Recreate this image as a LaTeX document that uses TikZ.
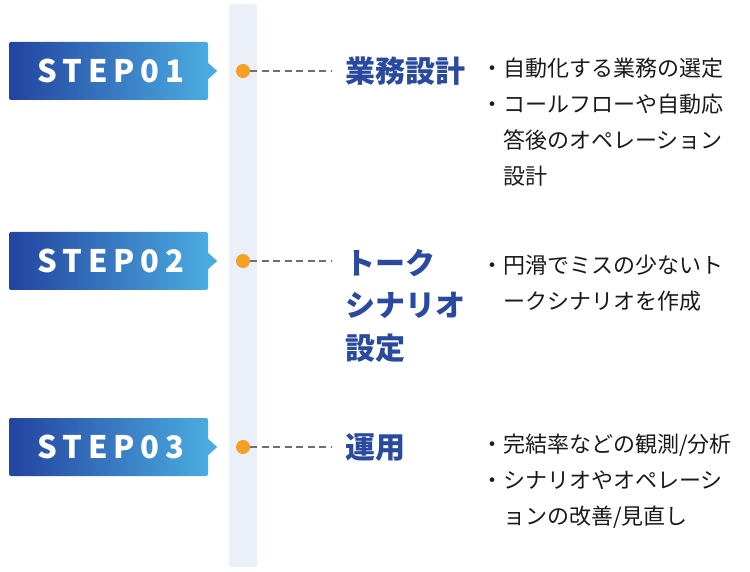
\documentclass[tikz,border=0pt]{standalone}
\usepackage{fontspec}
\setmainfont{Noto Sans CJK JP}
\newfontfamily\stepfont[LetterSpace=19]{Noto Sans CJK JP}
\definecolor{bandgray}{HTML}{EBF0F8}
\definecolor{stepdark}{HTML}{2343A0}
\definecolor{steplight}{HTML}{4BABE0}
\definecolor{titleblue}{HTML}{2A4A9F}
\definecolor{dotorange}{HTML}{F5A024}
\definecolor{dashgray}{HTML}{6E6E6E}
\definecolor{bodytext}{HTML}{1A1A1A}
\tikzset{
  stepbox/.style={rounded corners=2pt, left color=stepdark, right color=steplight,
    minimum width=199pt, minimum height=58pt, inner sep=0pt, text=white,
    font=\stepfont\bfseries\fontsize{31}{31}\selectfont},
  dot/.style={circle, fill=dotorange, minimum size=14pt, inner sep=0pt},
  dashline/.style={dashgray, line width=1.5pt, dash pattern=on 7pt off 4.5pt},
  steptitle/.style={titleblue, inner sep=0pt, align=left,
    font=\bfseries\fontsize{30}{42.5}\selectfont},
  bullets/.style={bodytext, inner sep=0pt, align=left,
    font=\fontsize{22}{36}\selectfont}
}
\begin{document}
\begin{tikzpicture}[x=1pt,y=-1pt]
    \useasboundingbox (0,0) rectangle (750,572);
    \fill [bandgray, rounded corners=2pt] (229,4) rectangle (257,567);
    \foreach \n/\y in {1/71,2/261,3/447} {
        \node [stepbox] (step\n) at (108.5,\y) {\hspace*{5pt}STEP0\n};
        \fill [steplight] ([yshift=8pt]step\n.east) -- ([xshift=9pt]step\n.east) -- ([yshift=-8pt]step\n.east) -- cycle;
        \node [dot] (dot\n) at (243,\y) {};
        \coordinate (dashend\n) at (332,\y);
        \draw [dashline] (dot\n) -- (dashend\n);
    }
    % base anchors sit on the last line
    \node [steptitle, anchor=base west] (title1) at (345,82.4) {業務設計};
    \node [steptitle, anchor=base west] (title2) at (345,359.4) {トーク\\シナリオ\\設定};
    \node [steptitle, anchor=base west] (title3) at (345,458.4) {運用};
    \node [bullets, anchor=base west] (bullets1) at (481,184.4)
        {・自動化する業務の選定\\・コールフローや自動応\\\phantom{・}答後のオペレーション\\\phantom{・}設計};
    \node [bullets, anchor=base west] (bullets2) at (481,309.4)
        {・円滑でミスの少ないト\\\phantom{・}ークシナリオを作成};
    \node [bullets, anchor=base west] (bullets3) at (481,524.4)
        {・完結率などの観測/分析\\・シナリオやオペレーシ\\\phantom{・}ョンの改善/見直し};
\end{tikzpicture}
\end{document}
